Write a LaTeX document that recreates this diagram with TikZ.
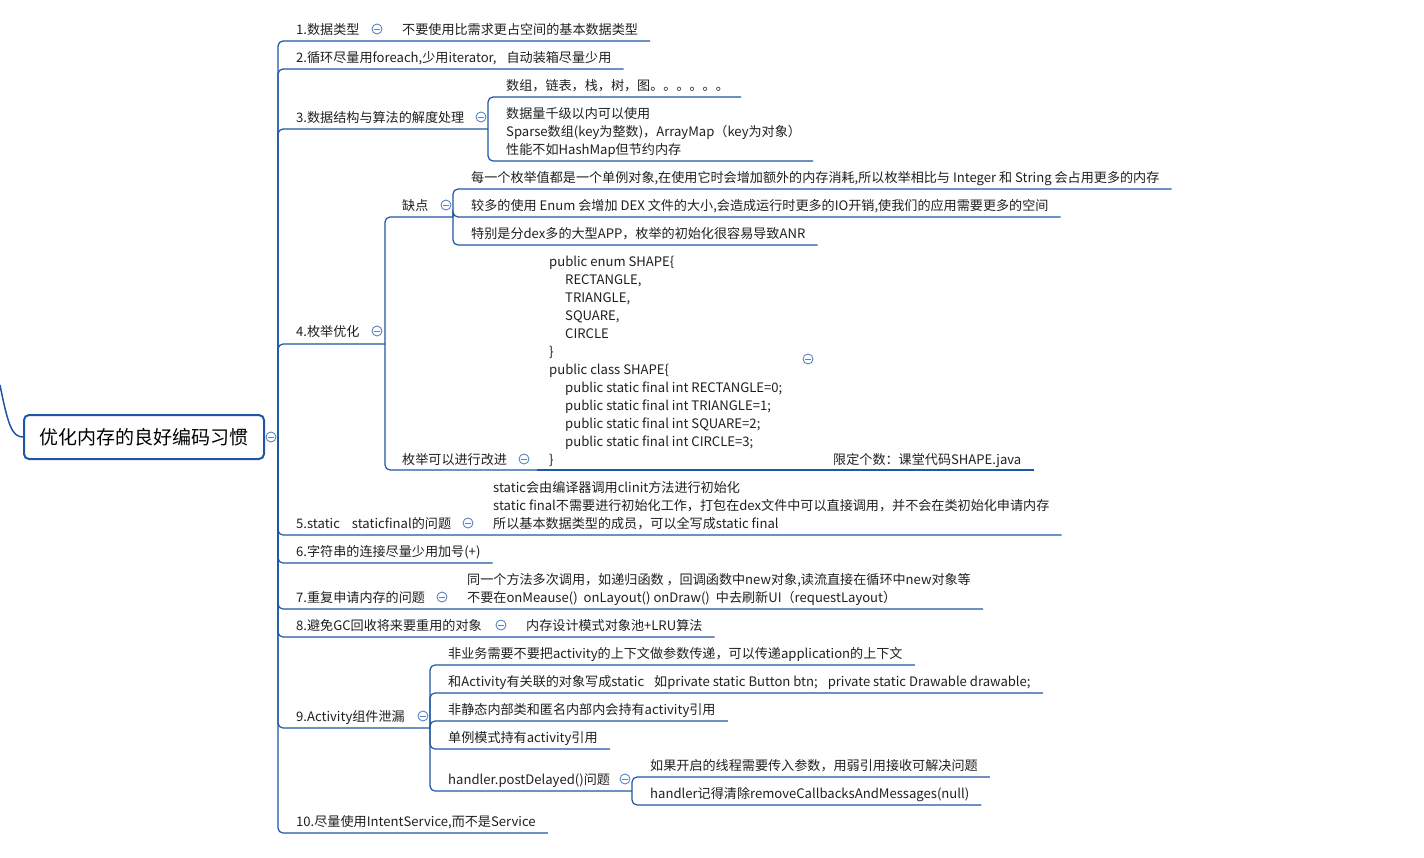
\documentclass[tikz,border=0pt]{standalone}
\usepackage{fontspec}
\setmainfont{Noto Sans CJK SC}
\definecolor{mapblue}{RGB}{32,86,166}
\definecolor{foldblue}{RGB}{88,132,200}
\newcommand{\topiclines}[1]{\begin{tabular}[b]{@{}l@{}}#1\end{tabular}}
\newcommand{\codeind}{\hspace*{16pt}}
\begin{document}
\begin{tikzpicture}[x=1pt, y=-1pt,
    topic/.style={anchor=base west, inner sep=0pt, text=black!88, font=\fontsize{13.1}{18}\selectfont},
    root/.style={draw=mapblue, line width=2pt, rounded corners=5pt, minimum width=240pt, minimum height=44pt, inner sep=0pt, font=\fontsize{19}{22}\selectfont},
    branch/.style={mapblue, line width=1.2pt, rounded corners=5pt},
    fold/.style={circle, draw=foldblue, fill=white, line width=0.9pt, minimum size=10pt, inner sep=0pt,
        path picture={\draw[foldblue, line width=0.9pt] ([xshift=-2.6pt]path picture bounding box.center) -- ([xshift=2.6pt]path picture bounding box.center);}}]
    \useasboundingbox (0,0) rectangle (1424,857);

    % root
    \node[root] (root) at (144,437) {优化内存的良好编码习惯};
    \coordinate (top) at (0,385);
    \coordinate (hub) at (278,437);
    \draw[mapblue, line width=1.5pt] (top) .. controls (8,425) and (12,437) .. (root.west);

    % level 1 topics
    \node[topic] (t1) at (296,34) {1.数据类型};
    \node[topic] (t1a) at (402,34) {不要使用比需求更占空间的基本数据类型};
    \node[topic] (t2) at (296,62) {2.循环尽量用foreach,少用iterator,\hspace{10pt}自动装箱尽量少用};
    \node[topic] (t3) at (296,122) {3.数据结构与算法的解度处理};
    \node[topic] (t3a) at (506,90) {数组，链表，栈，树，图。。。。。。};
    \node[topic] (t3b) at (506,154) {\topiclines{数据量千级以内可以使用\\Sparse数组(key为整数)，ArrayMap（key为对象）\\性能不如HashMap但节约内存}};
    \node[topic] (t4) at (296,336) {4.枚举优化};
    \node[topic] (t4a) at (402,210) {缺点};
    \node[topic] (t4a1) at (471,182) {每一个枚举值都是一个单例对象,在使用它时会增加额外的内存消耗,所以枚举相比与 Integer 和 String 会占用更多的内存};
    \node[topic] (t4a2) at (471,210) {较多的使用 Enum 会增加 DEX 文件的大小,会造成运行时更多的IO开销,使我们的应用需要更多的空间};
    \node[topic] (t4a3) at (471,238) {特别是分dex多的大型APP，枚举的初始化很容易导致ANR};
    \node[topic] (t4b) at (402,464) {枚举可以进行改进};
    \node[topic] (code) at (549,464) {\topiclines{public enum SHAPE\{\\
        \codeind RECTANGLE,\\
        \codeind TRIANGLE,\\
        \codeind SQUARE,\\
        \codeind CIRCLE\\
        \}\\
        public class SHAPE\{\\
        \codeind public static final int RECTANGLE=0;\\
        \codeind public static final int TRIANGLE=1;\\
        \codeind public static final int SQUARE=2;\\
        \codeind public static final int CIRCLE=3;\\
        \}}};
    \node[topic] (t4c) at (833,464) {限定个数：课堂代码SHAPE.java};
    \node[topic] (t5) at (296,528) {5.static\hspace{12pt}staticfinal的问题};
    \node[topic] (t5a) at (493,528) {\topiclines{static会由编译器调用clinit方法进行初始化\\static final不需要进行初始化工作，打包在dex文件中可以直接调用，并不会在类初始化申请内存\\所以基本数据类型的成员，可以全写成static final}};
    \node[topic] (t6) at (296,556) {6.字符串的连接尽量少用加号(+)};
    \node[topic] (t7) at (296,602) {7.重复申请内存的问题};
    \node[topic] (t7a) at (467,602) {\topiclines{同一个方法多次调用，如递归函数 ，回调函数中new对象,读流直接在循环中new对象等\\不要在onMeause()\hspace{6pt}onLayout() onDraw()\hspace{6pt}中去刷新UI（requestLayout）}};
    \node[topic] (t8) at (296,630) {8.避免GC回收将来要重用的对象};
    \node[topic] (t8a) at (526,630) {内存设计模式对象池+LRU算法};
    \node[topic] (t9) at (296,721) {9.Activity组件泄漏};
    \node[topic] (t9a) at (448,658) {非业务需要不要把activity的上下文做参数传递，可以传递application的上下文};
    \node[topic] (t9b) at (448,686) {和Activity有关联的对象写成static\hspace{10pt}如private static Button btn;\hspace{10pt}private static Drawable drawable;};
    \node[topic] (t9c) at (448,714) {非静态内部类和匿名内部内会持有activity引用};
    \node[topic] (t9d) at (448,742) {单例模式持有activity引用};
    \node[topic] (t9e) at (448,784) {handler.postDelayed()问题};
    \node[topic] (t9e1) at (650,770) {如果开启的线程需要传入参数，用弱引用接收可解决问题};
    \node[topic] (t9e2) at (650,798) {handler记得清除removeCallbacksAndMessages(null)};
    \node[topic] (t10) at (296,826) {10.尽量使用IntentService,而不是Service};

    % underline ends
    \coordinate (u1) at ([shift={(12pt,-7pt)}]t1a.base east);
    \coordinate (u2) at ([shift={(12pt,-7pt)}]t2.base east);
    \coordinate (u3) at (488,129);
    \coordinate (u3a) at ([shift={(12pt,-7pt)}]t3a.base east);
    \coordinate (u3b) at ([shift={(12pt,-7pt)}]t3b.base east);
    \coordinate (u4) at (385,344);
    \coordinate (u4a) at (453,217);
    \coordinate (u4a1) at ([shift={(12pt,-7pt)}]t4a1.base east);
    \coordinate (u4a2) at ([shift={(12pt,-7pt)}]t4a2.base east);
    \coordinate (u4a3) at ([shift={(12pt,-7pt)}]t4a3.base east);
    \coordinate (u4b) at (537,470);
    \coordinate (ucode) at (821,470);
    \coordinate (u4c) at ([shift={(12pt,-6pt)}]t4c.base east);
    \coordinate (u5) at ([shift={(12pt,-7pt)}]t5a.base east);
    \coordinate (u6) at ([shift={(12pt,-7pt)}]t6.base east);
    \coordinate (u7) at ([shift={(12pt,-7pt)}]t7a.base east);
    \coordinate (u8) at ([shift={(12pt,-7pt)}]t8a.base east);
    \coordinate (u9) at (430,728);
    \coordinate (u9a) at ([shift={(12pt,-7pt)}]t9a.base east);
    \coordinate (u9b) at ([shift={(12pt,-7pt)}]t9b.base east);
    \coordinate (u9c) at ([shift={(12pt,-7pt)}]t9c.base east);
    \coordinate (u9d) at ([shift={(12pt,-7pt)}]t9d.base east);
    \coordinate (u9e) at (632,791);
    \coordinate (u9e1) at ([shift={(12pt,-7pt)}]t9e1.base east);
    \coordinate (u9e2) at ([shift={(12pt,-7pt)}]t9e2.base east);
    \coordinate (u10) at ([shift={(12pt,-7pt)}]t10.base east);

    % branches
    \draw[branch] (hub) |- (u1);
    \draw[branch] (hub) |- (u2);
    \draw[branch] (hub) |- (u3);
    \draw[branch] (u3) |- (u3a);
    \draw[branch] (u3) |- (u3b);
    \draw[branch] (hub) |- (u4);
    \draw[branch] (u4) |- (u4a);
    \draw[branch] (u4a) |- (u4a1);
    \draw[branch] (u4a) |- (u4a2);
    \draw[branch] (u4a) |- (u4a3);
    \draw[branch] (u4) |- (u4b);
    \draw[branch] (u4b) -- (ucode) -- (u4c);
    \draw[branch] (hub) |- (u5);
    \draw[branch] (hub) |- (u6);
    \draw[branch] (hub) |- (u7);
    \draw[branch] (hub) |- (u8);
    \draw[branch] (hub) |- (u9);
    \draw[branch] (u9) |- (u9a);
    \draw[branch] (u9) |- (u9b);
    \draw[branch] (u9) |- (u9c);
    \draw[branch] (u9) |- (u9d);
    \draw[branch] (u9) |- (u9e);
    \draw[branch] (u9e) |- (u9e1);
    \draw[branch] (u9e) |- (u9e2);
    \draw[branch] (hub) |- (u10);

    % fold marks
    \node[fold] (f0) at (271,437) {};
    \node[fold] (f1) at (377,29) {};
    \node[fold] (f3) at (481,117) {};
    \node[fold] (f4) at (377,331) {};
    \node[fold] (f4a) at (446,205) {};
    \node[fold] (f4b) at (524,459) {};
    \node[fold] (fcode) at (808,359) {};
    \node[fold] (f5) at (468,523) {};
    \node[fold] (f7) at (442,597) {};
    \node[fold] (f8) at (501,625) {};
    \node[fold] (f9) at (423,716) {};
    \node[fold] (f9e) at (625,779) {};
\end{tikzpicture}
\end{document}
